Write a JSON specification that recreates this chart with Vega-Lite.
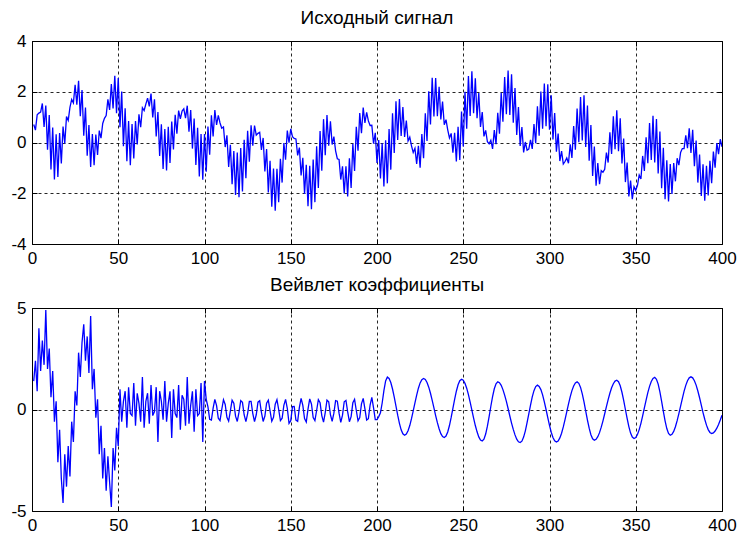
{
"$schema":"https://vega.github.io/schema/vega-lite/v6.json",
"background":"white",
"padding":{"left":10,"top":8,"right":4,"bottom":4},
"spacing":8,
"config":{
"font":"Liberation Sans",
"view":{"stroke":"black","strokeWidth":1},
"axis":{"labelFont":"Liberation Sans","labelFontSize":17,"labelColor":"black","domain":false,"ticks":true,"tickColor":"black","tickSize":-5,"labelPadding":11,"gridColor":"black","gridDash":[3,3],"gridOpacity":0.85,"gridWidth":1,"title":null,"labelFlush":false,"labelExpr":"toString(datum.value)"},
"title":{"font":"Liberation Sans","fontSize":19,"fontWeight":"normal","color":"black","offset":4,"anchor":"middle"}
},
"data":{"values":[
{"x":1,"s":0.71,"c":1.4},{"x":2,"s":0.49,"c":2.4},{"x":3,"s":1.09,"c":0.9},{"x":4,"s":1.16,"c":4.0},{"x":5,"s":1.20,"c":1.9},{"x":6,"s":1.54,"c":3.4},{"x":7,"s":0.61,"c":2.2},{"x":8,"s":1.46,"c":4.9},{"x":9,"s":-0.28,"c":2.0},{"x":10,"s":1.08,"c":3.0},
{"x":11,"s":-1.06,"c":0.6},{"x":12,"s":0.59,"c":1.9},{"x":13,"s":-1.46,"c":-0.6},{"x":14,"s":0.32,"c":0.4},{"x":15,"s":-1.36,"c":-2.6},{"x":16,"s":0.37,"c":-1.0},{"x":17,"s":-0.83,"c":-3.4},{"x":18,"s":0.63,"c":-4.6},{"x":19,"s":-0.04,"c":-2.2},{"x":20,"s":1.02,"c":-3.8},
{"x":21,"s":0.87,"c":-1.8},{"x":22,"s":1.38,"c":-3.3},{"x":23,"s":1.70,"c":-0.6},{"x":24,"s":1.56,"c":-1.6},{"x":25,"s":2.27,"c":0.9},{"x":26,"s":1.49,"c":0.2},{"x":27,"s":2.43,"c":2.8},{"x":28,"s":1.04,"c":1.6},{"x":29,"s":2.07,"c":3.3},{"x":30,"s":0.27,"c":4.2},
{"x":31,"s":1.38,"c":2.4},{"x":32,"s":-0.52,"c":3.6},{"x":33,"s":0.69,"c":1.8},{"x":34,"s":-0.96,"c":4.6},{"x":35,"s":0.33,"c":1.0},{"x":36,"s":-0.90,"c":2.0},{"x":37,"s":0.31,"c":-0.4},{"x":38,"s":-0.49,"c":0.5},{"x":39,"s":0.47,"c":-2.2},{"x":40,"s":0.17,"c":-0.8},
{"x":41,"s":0.75,"c":-3.4},{"x":42,"s":0.95,"c":-1.9},{"x":43,"s":1.06,"c":-4.0},{"x":44,"s":1.70,"c":-2.3},{"x":45,"s":1.28,"c":-3.6},{"x":46,"s":2.30,"c":-4.8},{"x":47,"s":1.34,"c":-1.9},{"x":48,"s":2.63,"c":-3.0},{"x":49,"s":1.15,"c":-0.9},{"x":50,"s":2.54,"c":-1.8},
{"x":51,"s":0.60,"c":1.0},{"x":52,"s":2.01,"c":-0.6},{"x":53,"s":-0.15,"c":0.4},{"x":54,"s":1.35,"c":0.9},{"x":55,"s":-0.74,"c":-0.9},{"x":56,"s":0.85,"c":1.1},{"x":57,"s":-0.90,"c":-0.2},{"x":58,"s":0.73,"c":-0.3},{"x":59,"s":-0.63,"c":1.3},{"x":60,"s":0.85,"c":-0.8},
{"x":61,"s":-0.08,"c":0.8},{"x":62,"s":1.11,"c":0.3},{"x":63,"s":0.60,"c":-0.6},{"x":64,"s":1.37,"c":1.6},{"x":65,"s":1.26,"c":-0.9},{"x":66,"s":1.51,"c":0.4},{"x":67,"s":1.75,"c":0.8},{"x":68,"s":1.42,"c":-0.7},{"x":69,"s":1.93,"c":1.2},{"x":70,"s":0.99,"c":-0.3},
{"x":71,"s":1.70,"c":-0.1},{"x":72,"s":0.24,"c":1.1},{"x":73,"s":1.20,"c":-1.6},{"x":74,"s":-0.53,"c":0.9},{"x":75,"s":0.72,"c":0.4},{"x":76,"s":-1.04,"c":-0.5},{"x":77,"s":0.53,"c":1.4},{"x":78,"s":-1.10,"c":-0.6},{"x":79,"s":0.62,"c":0.3},{"x":80,"s":-0.81,"c":0.9},
{"x":81,"s":0.83,"c":-1.4},{"x":82,"s":-0.27,"c":1.0},{"x":83,"s":1.09,"c":-0.2},{"x":84,"s":0.35,"c":-0.4},{"x":85,"s":1.26,"c":1.2},{"x":86,"s":0.93,"c":-1.0},{"x":87,"s":1.24,"c":0.7},{"x":88,"s":1.33,"c":0.5},{"x":89,"s":0.96,"c":-0.8},{"x":90,"s":1.45,"c":1.6},
{"x":91,"s":0.43,"c":-0.7},{"x":92,"s":1.28,"c":0.2},{"x":93,"s":-0.24,"c":0.9},{"x":94,"s":0.94,"c":-1.1},{"x":95,"s":-0.89,"c":1.0},{"x":96,"s":0.58,"c":-0.3},{"x":97,"s":-1.34,"c":-0.2},{"x":98,"s":0.33,"c":1.3},{"x":99,"s":-1.47,"c":-1.6},{"x":100,"s":0.33,"c":1.4},
{"x":101,"s":-1.15,"c":0.50},{"x":102,"s":0.63,"c":0.13},{"x":103,"s":-0.48,"c":-0.48},{"x":104,"s":1.07,"c":-0.52},{"x":105,"s":0.24,"c":0.07},{"x":106,"s":1.28,"c":0.50},{"x":107,"s":0.69,"c":0.19},{"x":108,"s":1.07,"c":-0.43},{"x":109,"s":0.77,"c":-0.55},{"x":110,"s":0.56,"c":0.00},
{"x":111,"s":0.61,"c":0.48},{"x":112,"s":-0.18,"c":0.25},{"x":113,"s":0.28,"c":-0.38},{"x":114,"s":-0.96,"c":-0.57},{"x":115,"s":-0.09,"c":-0.07},{"x":116,"s":-1.64,"c":0.46},{"x":117,"s":-0.34,"c":0.31},{"x":118,"s":-2.07,"c":-0.33},{"x":119,"s":-0.40,"c":-0.59},{"x":120,"s":-2.16,"c":-0.13},
{"x":121,"s":-0.22,"c":0.44},{"x":122,"s":-1.93,"c":0.35},{"x":123,"s":0.11,"c":-0.27},{"x":124,"s":-1.41,"c":-0.60},{"x":125,"s":0.46,"c":-0.20},{"x":126,"s":-0.76,"c":0.40},{"x":127,"s":0.68,"c":0.40},{"x":128,"s":-0.13,"c":-0.20},{"x":129,"s":0.67,"c":-0.60},{"x":130,"s":0.29,"c":-0.26},
{"x":131,"s":0.36,"c":0.36},{"x":132,"s":0.40,"c":0.43},{"x":133,"s":-0.29,"c":-0.14},{"x":134,"s":0.18,"c":-0.59},{"x":135,"s":-1.14,"c":-0.32},{"x":136,"s":-0.26,"c":0.31},{"x":137,"s":-1.97,"c":0.46},{"x":138,"s":-0.72,"c":-0.07},{"x":139,"s":-2.53,"c":-0.58},{"x":140,"s":-1.03,"c":-0.38},
{"x":141,"s":-2.69,"c":0.26},{"x":142,"s":-1.04,"c":0.48},{"x":143,"s":-2.35,"c":0.00},{"x":144,"s":-0.64,"c":-0.55},{"x":145,"s":-1.58,"c":-0.43},{"x":146,"s":-0.02,"c":0.20},{"x":147,"s":-0.68,"c":0.50},{"x":148,"s":0.47,"c":0.06},{"x":149,"s":-0.01,"c":-0.68},{"x":150,"s":0.54,"c":-0.55},
{"x":151,"s":0.23,"c":0.14},{"x":152,"s":0.16,"c":0.15},{"x":153,"s":0.14,"c":-0.52},{"x":154,"s":-0.51,"c":-0.58},{"x":155,"s":-0.20,"c":0.10},{"x":156,"s":-1.30,"c":0.55},{"x":157,"s":-0.60,"c":0.20},{"x":158,"s":-2.03,"c":-0.45},{"x":159,"s":-0.88,"c":-0.62},{"x":160,"s":-2.51,"c":0.02},
{"x":161,"s":-0.92,"c":0.52},{"x":162,"s":-2.63,"c":0.27},{"x":163,"s":-0.67,"c":-0.40},{"x":164,"s":-2.35,"c":-0.55},{"x":165,"s":-0.15,"c":-0.05},{"x":166,"s":-1.79,"c":0.48},{"x":167,"s":0.45,"c":0.33},{"x":168,"s":-1.11,"c":-0.30},{"x":169,"s":0.92,"c":-0.62},{"x":170,"s":-0.50,"c":-0.15},
{"x":171,"s":1.08,"c":0.46},{"x":172,"s":-0.13,"c":0.38},{"x":173,"s":0.84,"c":-0.25},{"x":174,"s":-0.08,"c":-0.58},{"x":175,"s":0.23,"c":-0.18},{"x":176,"s":-0.33,"c":0.44},{"x":177,"s":-0.64,"c":0.41},{"x":178,"s":-0.67,"c":-0.18},{"x":179,"s":-1.46,"c":-0.63},{"x":180,"s":-0.94,"c":-0.28},
{"x":181,"s":-2.01,"c":0.38},{"x":182,"s":-0.94,"c":0.45},{"x":183,"s":-2.13,"c":-0.12},{"x":184,"s":-0.62,"c":-0.60},{"x":185,"s":-1.79,"c":-0.35},{"x":186,"s":-0.05,"c":0.33},{"x":187,"s":-1.12,"c":0.50},{"x":188,"s":0.62,"c":-0.05},{"x":189,"s":-0.32,"c":-0.56},{"x":190,"s":1.16,"c":-0.40},
{"x":191,"s":0.37,"c":0.28},{"x":192,"s":1.38,"c":0.55},{"x":193,"s":0.77,"c":0.03},{"x":194,"s":1.19,"c":-0.52},{"x":195,"s":0.85,"c":-0.45},{"x":196,"s":0.67,"c":0.22},{"x":197,"s":0.68,"c":0.60},{"x":198,"s":-0.05,"c":0.08},{"x":199,"s":0.38,"c":-0.50},{"x":200,"s":-0.81,"c":-0.50},
{"x":201,"s":0.10,"c":-0.35},{"x":202,"s":-1.42,"c":-0.16},{"x":203,"s":-0.03,"c":0.32},{"x":204,"s":-1.73,"c":0.93},{"x":205,"s":0.09,"c":1.41},{"x":206,"s":-1.61,"c":1.60},{"x":207,"s":0.53,"c":1.53},{"x":208,"s":-1.07,"c":1.33},{"x":209,"s":1.15,"c":1.01},{"x":210,"s":-0.41,"c":0.61},
{"x":211,"s":1.62,"c":0.17},{"x":212,"s":0.10,"c":-0.28},{"x":213,"s":1.71,"c":-0.68},{"x":214,"s":0.26,"c":-1.00},{"x":215,"s":1.40,"c":-1.20},{"x":216,"s":0.22,"c":-1.27},{"x":217,"s":0.86,"c":-1.21},{"x":218,"s":0.06,"c":-1.05},{"x":219,"s":0.21,"c":-0.79},{"x":220,"s":-0.13,"c":-0.45},
{"x":221,"s":-0.39,"c":-0.07},{"x":222,"s":-0.23,"c":0.33},{"x":223,"s":-0.84,"c":0.71},{"x":224,"s":-0.13,"c":1.05},{"x":225,"s":-0.99,"c":1.31},{"x":226,"s":0.33,"c":1.47},{"x":227,"s":-0.62,"c":1.53},{"x":228,"s":1.15,"c":1.48},{"x":229,"s":0.06,"c":1.33},{"x":230,"s":2.02,"c":1.10},
{"x":231,"s":0.71,"c":0.80},{"x":232,"s":2.55,"c":0.45},{"x":233,"s":1.03,"c":0.08},{"x":234,"s":2.54,"c":-0.30},{"x":235,"s":1.04,"c":-0.65},{"x":236,"s":2.20,"c":-0.95},{"x":237,"s":0.91,"c":-1.19},{"x":238,"s":1.61,"c":-1.33},{"x":239,"s":0.70,"c":-1.38},{"x":240,"s":0.90,"c":-1.31},
{"x":241,"s":0.50,"c":-1.11},{"x":242,"s":0.18,"c":-0.79},{"x":243,"s":0.36,"c":-0.39},{"x":244,"s":-0.40,"c":0.06},{"x":245,"s":0.38,"c":0.50},{"x":246,"s":-0.75,"c":0.90},{"x":247,"s":0.62,"c":1.22},{"x":248,"s":-0.69,"c":1.42},{"x":249,"s":1.22,"c":1.49},{"x":250,"s":-0.16,"c":1.44},
{"x":251,"s":2.00,"c":1.29},{"x":252,"s":0.54,"c":1.05},{"x":253,"s":2.62,"c":0.73},{"x":254,"s":1.05,"c":0.36},{"x":255,"s":2.81,"c":-0.03},{"x":256,"s":1.15,"c":-0.42},{"x":257,"s":2.53,"c":-0.79},{"x":258,"s":0.96,"c":-1.10},{"x":259,"s":1.95,"c":-1.35},{"x":260,"s":0.61,"c":-1.50},
{"x":261,"s":1.20,"c":-1.55},{"x":262,"s":0.24,"c":-1.46},{"x":263,"s":0.48,"c":-1.21},{"x":264,"s":0.03,"c":-0.82},{"x":265,"s":-0.05,"c":-0.35},{"x":266,"s":0.09,"c":0.16},{"x":267,"s":-0.25,"c":0.63},{"x":268,"s":0.49,"c":1.02},{"x":269,"s":-0.07,"c":1.27},{"x":270,"s":1.17,"c":1.36},
{"x":271,"s":0.35,"c":1.32},{"x":272,"s":1.96,"c":1.19},{"x":273,"s":0.82,"c":0.98},{"x":274,"s":2.58,"c":0.71},{"x":275,"s":1.11,"c":0.40},{"x":276,"s":2.84,"c":0.05},{"x":277,"s":1.08,"c":-0.32},{"x":278,"s":2.69,"c":-0.67},{"x":279,"s":0.78,"c":-0.98},{"x":280,"s":2.15,"c":-1.25},
{"x":281,"s":0.30,"c":-1.46},{"x":282,"s":1.40,"c":-1.59},{"x":283,"s":-0.14,"c":-1.63},{"x":284,"s":0.61,"c":-1.56},{"x":285,"s":-0.39,"c":-1.36},{"x":286,"s":0.02,"c":-1.05},{"x":287,"s":-0.30,"c":-0.65},{"x":288,"s":-0.26,"c":-0.22},{"x":289,"s":0.10,"c":0.22},{"x":290,"s":-0.25,"c":0.62},
{"x":291,"s":0.73,"c":0.93},{"x":292,"s":-0.03,"c":1.13},{"x":293,"s":1.43,"c":1.20},{"x":294,"s":0.27,"c":1.14},{"x":295,"s":2.01,"c":0.98},{"x":296,"s":0.54,"c":0.72},{"x":297,"s":2.32,"c":0.38},{"x":298,"s":0.64,"c":0.00},{"x":299,"s":2.29,"c":-0.40},{"x":300,"s":0.50,"c":-0.78},
{"x":301,"s":1.86,"c":-1.12},{"x":302,"s":0.12,"c":-1.38},{"x":303,"s":1.16,"c":-1.54},{"x":304,"s":-0.36,"c":-1.60},{"x":305,"s":0.35,"c":-1.55},{"x":306,"s":-0.73,"c":-1.40},{"x":307,"s":-0.34,"c":-1.17},{"x":308,"s":-0.85,"c":-0.86},{"x":309,"s":-0.75,"c":-0.50},{"x":310,"s":-0.61,"c":-0.12},
{"x":311,"s":-0.82,"c":0.26},{"x":312,"s":-0.07,"c":0.62},{"x":313,"s":-0.61,"c":0.93},{"x":314,"s":0.65,"c":1.16},{"x":315,"s":-0.28,"c":1.31},{"x":316,"s":1.34,"c":1.36},{"x":317,"s":0.01,"c":1.29},{"x":318,"s":1.79,"c":1.09},{"x":319,"s":0.08,"c":0.77},{"x":320,"s":1.86,"c":0.37},
{"x":321,"s":-0.18,"c":-0.08},{"x":322,"s":1.46,"c":-0.52},{"x":323,"s":-0.72,"c":-0.92},{"x":324,"s":0.69,"c":-1.24},{"x":325,"s":-1.32,"c":-1.44},{"x":326,"s":-0.16,"c":-1.51},{"x":327,"s":-1.70,"c":-1.47},{"x":328,"s":-0.81,"c":-1.34},{"x":329,"s":-1.64,"c":-1.14},{"x":330,"s":-1.11,"c":-0.87},
{"x":331,"s":-1.17,"c":-0.56},{"x":332,"s":-1.06,"c":-0.21},{"x":333,"s":-0.40,"c":0.14},{"x":334,"s":-0.79,"c":0.49},{"x":335,"s":0.40,"c":0.80},{"x":336,"s":-0.45,"c":1.07},{"x":337,"s":1.03,"c":1.27},{"x":338,"s":-0.26,"c":1.40},{"x":339,"s":1.27,"c":1.44},{"x":340,"s":-0.34,"c":1.37},
{"x":341,"s":0.95,"c":1.17},{"x":342,"s":-0.83,"c":0.85},{"x":343,"s":0.16,"c":0.45},{"x":344,"s":-1.56,"c":0.00},{"x":345,"s":-0.79,"c":-0.44},{"x":346,"s":-2.13,"c":-0.84},{"x":347,"s":-1.50,"c":-1.16},{"x":348,"s":-2.23,"c":-1.36},{"x":349,"s":-1.74,"c":-1.43},{"x":350,"s":-1.88,"c":-1.38},
{"x":351,"s":-1.69,"c":-1.23},{"x":352,"s":-1.28,"c":-0.99},{"x":353,"s":-1.44,"c":-0.68},{"x":354,"s":-0.53,"c":-0.31},{"x":355,"s":-1.12,"c":0.08},{"x":356,"s":0.21,"c":0.46},{"x":357,"s":-0.82,"c":0.83},{"x":358,"s":0.77,"c":1.14},{"x":359,"s":-0.69,"c":1.38},{"x":360,"s":1.05,"c":1.53},
{"x":361,"s":-0.79,"c":1.58},{"x":362,"s":0.93,"c":1.49},{"x":363,"s":-1.22,"c":1.25},{"x":364,"s":0.43,"c":0.87},{"x":365,"s":-1.80,"c":0.40},{"x":366,"s":-0.21,"c":-0.09},{"x":367,"s":-2.24,"c":-0.56},{"x":368,"s":-0.70,"c":-0.94},{"x":369,"s":-2.32,"c":-1.18},{"x":370,"s":-0.85,"c":-1.27},
{"x":371,"s":-2.03,"c":-1.22},{"x":372,"s":-0.81,"c":-1.08},{"x":373,"s":-1.53,"c":-0.85},{"x":374,"s":-0.62,"c":-0.55},{"x":375,"s":-0.89,"c":-0.20},{"x":376,"s":-0.39,"c":0.17},{"x":377,"s":-0.24,"c":0.54},{"x":378,"s":-0.24,"c":0.89},{"x":379,"s":0.28,"c":1.19},{"x":380,"s":-0.22,"c":1.42},
{"x":381,"s":0.56,"c":1.56},{"x":382,"s":-0.41,"c":1.61},{"x":383,"s":0.50,"c":1.56},{"x":384,"s":-0.93,"c":1.42},{"x":385,"s":0.08,"c":1.20},{"x":386,"s":-1.58,"c":0.91},{"x":387,"s":-0.47,"c":0.58},{"x":388,"s":-2.11,"c":0.22},{"x":389,"s":-0.86,"c":-0.15},{"x":390,"s":-2.29,"c":-0.48},
{"x":391,"s":-0.92,"c":-0.77},{"x":392,"s":-2.09,"c":-0.99},{"x":393,"s":-0.72,"c":-1.13},{"x":394,"s":-1.60,"c":-1.18},{"x":395,"s":-0.36,"c":-1.15},{"x":396,"s":-0.99,"c":-1.06},{"x":397,"s":-0.02,"c":-0.92},{"x":398,"s":-0.46,"c":-0.74},{"x":399,"s":0.13,"c":-0.52},{"x":400,"s":-0.17,"c":-0.28}
]},
"vconcat":[
{"title":"Исходный сигнал","width":690,"height":203,
"layer":[
{"mark":{"type":"line","color":"#0000ff","strokeWidth":1.3,"clip":true},
"encoding":{"x":{"field":"x","type":"quantitative","scale":{"domain":[0,400],"nice":false,"zero":false},"axis":{"values":[0,50,100,150,200,250,300,350,400],"grid":true}},
"y":{"field":"s","type":"quantitative","scale":{"domain":[-4,4],"nice":false},"axis":{"values":[-4,-2,0,2,4],"grid":true}}}},
{"mark":{"type":"line","opacity":0},
"encoding":{"x":{"field":"x","type":"quantitative","axis":{"orient":"top","labels":false,"grid":false,"values":[0,50,100,150,200,250,300,350,400]}},
"y":{"field":"s","type":"quantitative","axis":{"orient":"right","labels":false,"grid":false,"values":[-4,-2,0,2,4]}}}}
],
"resolve":{"axis":{"x":"independent","y":"independent"}}
},
{"title":"Вейвлет коэффициенты","width":690,"height":203,
"layer":[
{"mark":{"type":"line","color":"#0000ff","strokeWidth":1.3,"clip":true},
"encoding":{"x":{"field":"x","type":"quantitative","scale":{"domain":[0,400],"nice":false,"zero":false},"axis":{"values":[0,50,100,150,200,250,300,350,400],"grid":true}},
"y":{"field":"c","type":"quantitative","scale":{"domain":[-5,5],"nice":false},"axis":{"values":[-5,0,5],"grid":true}}}},
{"mark":{"type":"line","opacity":0},
"encoding":{"x":{"field":"x","type":"quantitative","axis":{"orient":"top","labels":false,"grid":false,"values":[0,50,100,150,200,250,300,350,400]}},
"y":{"field":"c","type":"quantitative","axis":{"orient":"right","labels":false,"grid":false,"values":[-5,0,5]}}}}
],
"resolve":{"axis":{"x":"independent","y":"independent"}}
}
]
}
